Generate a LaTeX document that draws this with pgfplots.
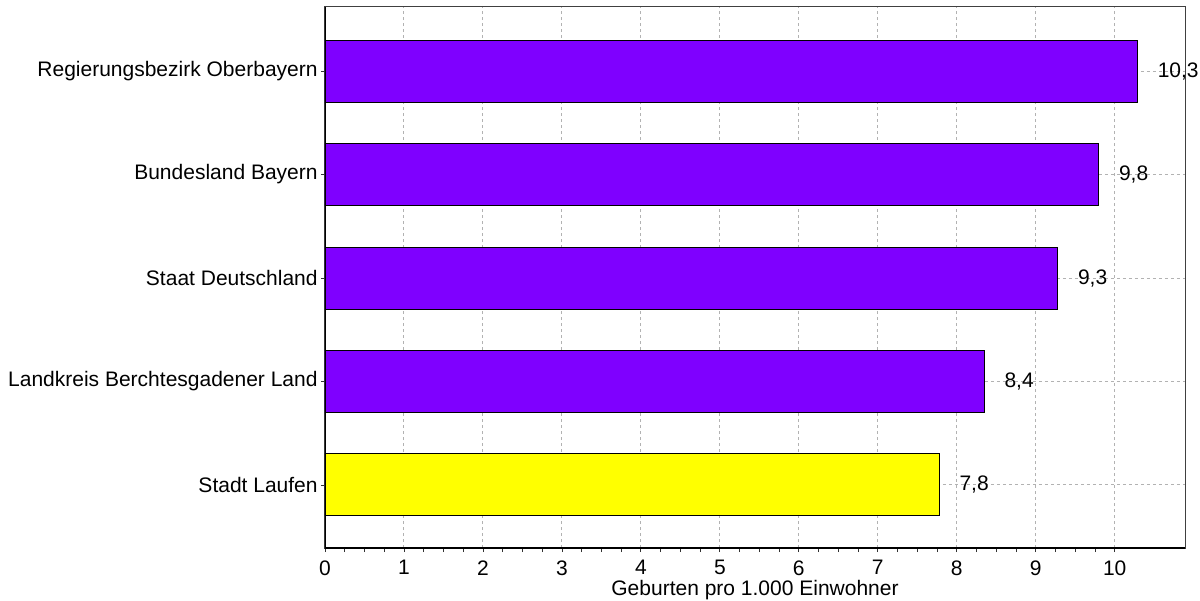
\documentclass[border=0pt]{standalone}
\usepackage{pgfplots}
\pgfplotsset{compat=1.18}
\usepackage{fontspec}
\setmainfont{Liberation Sans}
\definecolor{barpurple}{RGB}{127,0,255}
\definecolor{baryellow}{RGB}{255,255,0}
\begin{document}
\begin{tikzpicture}[font=\fontsize{10.5bp}{12.5bp}\selectfont]
\useasboundingbox (-162.5bp,-26.5bp) rectangle (437.5bp,274bp);
\begin{axis}[
  at={(0,0)}, anchor=south west,
  scale only axis, width=430bp, height=270.5bp,
  xbar, bar width=31bp, bar shift=0pt,
  xmin=0, xmax=10.89, ymin=-0.61, ymax=4.62,
  xtick={0,...,10}, minor x tick num=3,
  ytick={0,...,4},
  yticklabels={Stadt Laufen, Landkreis Berchtesgadener Land, Staat Deutschland, Bundesland Bayern, Regierungsbezirk Oberbayern},
  tick align=outside, major tick length=2bp, minor tick length=2bp,
  tick style={black!80, line width=0.4bp},
  xtick pos=bottom, ytick pos=left,
  xmajorgrids, ymajorgrids,
  major grid style={gray!60, dash pattern=on 1.5bp off 1.5bp, line width=0.5bp},
  axis line style={black!75, line width=0.5bp},
  /pgf/number format/assume math mode=true,
  xticklabel style={anchor=north, inner sep=0pt, yshift=-4bp},
  yticklabel style={anchor=east, inner sep=0pt, xshift=-1.5bp},
  xlabel={Geburten pro 1.000 Einwohner},
  xlabel style={at={(axis description cs:0.5,0)}, anchor=center, yshift=-21bp},
  point meta=explicit,
  nodes near coords={\pgfmathprintnumber[assume math mode=true,use comma,fixed,fixed zerofill,precision=1]{\pgfplotspointmeta}},
  nodes near coords style={anchor=west, xshift=6.5bp, black},
]
\addplot[fill=barpurple, draw=black, line width=0.5bp] coordinates {(8.35,1) [8.4] (9.28,2) [9.3] (9.8,3) [9.8] (10.29,4) [10.3]};
\addplot[fill=baryellow, draw=black, line width=0.5bp] coordinates {(7.78,0) [7.8]};
\draw[black, line width=1.1bp] (rel axis cs:0,1) -- (rel axis cs:0,0) -- (rel axis cs:1,0);
\end{axis}
\end{tikzpicture}
\end{document}
